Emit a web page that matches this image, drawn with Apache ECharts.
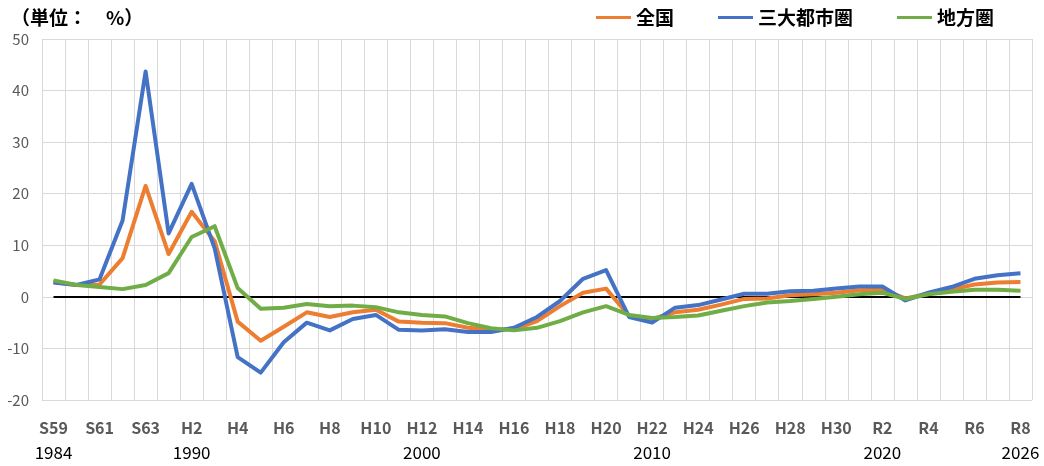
<!DOCTYPE html>
<html><head><meta charset="utf-8">
<script src="https://cdn.jsdelivr.net/npm/echarts@6/dist/echarts.min.js"></script>
<style>html,body{margin:0;padding:0;background:#fff}#c{width:1044px;height:466px}</style>
</head><body><div id="c"></div>
<script>
const eraLabels = ['S59','S60','S61','S62','S63','H1','H2','H3','H4','H5','H6','H7','H8','H9','H10','H11','H12','H13','H14','H15','H16','H17','H18','H19','H20','H21','H22','H23','H24','H25','H26','H27','H28','H29','H30','R1','R2','R3','R4','R5','R6','R7','R8'];
const yearLabels = {0:'1984',6:'1990',16:'2000',26:'2010',36:'2020',42:'2026'};
const zenkoku = [2.9,2.3,2.4,7.5,21.5,8.3,16.5,10.8,-4.8,-8.5,-5.8,-3.0,-3.9,-3.0,-2.5,-4.8,-5.0,-5.1,-6.0,-6.4,-6.3,-4.7,-1.8,0.8,1.6,-3.7,-4.3,-3.0,-2.5,-1.5,-0.4,-0.3,0.3,0.5,0.8,1.3,1.4,-0.3,0.6,1.4,2.4,2.8,2.9];
const sandai = [2.8,2.3,3.4,14.8,43.7,12.3,21.9,9.4,-11.7,-14.7,-8.8,-5.0,-6.5,-4.3,-3.5,-6.4,-6.5,-6.3,-6.8,-6.8,-6.0,-3.9,-0.8,3.5,5.2,-3.9,-5.0,-2.1,-1.6,-0.5,0.6,0.6,1.1,1.2,1.6,2.0,2.0,-0.7,0.8,1.9,3.5,4.2,4.6];
const chiho = [3.2,2.3,1.9,1.5,2.3,4.6,11.6,13.7,1.7,-2.3,-2.1,-1.4,-1.8,-1.7,-2.0,-3.0,-3.5,-3.8,-5.1,-6.1,-6.5,-6.0,-4.7,-3.0,-1.8,-3.5,-4.1,-3.9,-3.6,-2.7,-1.8,-1.1,-0.8,-0.4,0.0,0.5,0.8,-0.4,0.5,1.0,1.4,1.4,1.2];
const seriesNames = ['全国','三大都市圏','地方圏'];
const colors = ['#ED7D31','#4472C4','#70AD47'];
const yMin = -20, yMax = 50, yStep = 10;

const font = "'Noto Sans CJK JP','Noto Sans',sans-serif";
const chart = echarts.init(document.getElementById('c'), null, {renderer:'canvas'});
const mk = (name, data, color, extra) => Object.assign({
  name, type:'line', data, symbol:'none', smooth:false,
  lineStyle:{color, width:4, join:'round'}, itemStyle:{color}
}, extra||{});
chart.setOption({
  animation:false,
  textStyle:{fontFamily:font},
  title:{text:'（単位：　%）', left:6, top:3, textStyle:{fontSize:19, fontWeight:'bold', color:'#000', fontFamily:font}},
  legend:{
    data:seriesNames, left:591, top:3, itemWidth:35, itemHeight:3, itemGap:44, icon:'rect',
    textStyle:{fontSize:19, fontWeight:'bold', color:'#000', fontFamily:font}
  },
  grid:{left:42, right:12, top:39, bottom:66, containLabel:false},
  xAxis:{
    type:'category', data:eraLabels, boundaryGap:true,
    axisLine:{show:false}, axisTick:{show:false},
    splitLine:{show:true, interval:0, lineStyle:{color:'#d9d9d9', width:1}},
    axisLabel:{
      interval:1, margin:15,
      formatter:(v,i)=>'{a|'+v+'}\n{b|'+(yearLabels[i]||' ')+'}',
      rich:{
        a:{fontSize:16, fontWeight:'bold', color:'#595959', lineHeight:25, fontFamily:font},
        b:{fontSize:17, color:'#000', lineHeight:25, fontFamily:font}
      }
    }
  },
  yAxis:{
    type:'value', min:yMin, max:yMax, interval:yStep,
    axisLine:{show:false}, axisTick:{show:false},
    splitLine:{lineStyle:{color:'#d9d9d9', width:1}},
    axisLabel:{fontSize:15, color:'#595959', margin:13, fontFamily:font}
  },
  series:[
    mk(seriesNames[0], zenkoku, colors[0], {
      markLine:{silent:true, symbol:'none', z:1, label:{show:false},
        lineStyle:{color:'#000', width:2, type:'solid'},
        data:[[{coord:[eraLabels[0],0]},{coord:[eraLabels[eraLabels.length-1],0]}]]}
    }),
    mk(seriesNames[1], sandai, colors[1]),
    mk(seriesNames[2], chiho, colors[2])
  ]
});
</script></body></html>
